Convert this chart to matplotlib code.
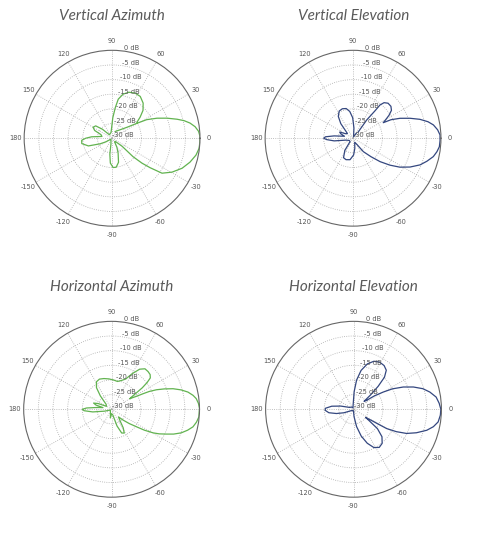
import numpy as np
import matplotlib.pyplot as plt

va_ang = [65.6, 36.3, 31, 28.2, 24, 20, 16.3, 13.7, 11, 7.9, 4.6, 1.3, -2, -6.6, -11.4, -17.1,
          -23.2, -29.5, -35, -37.8, -39.8, -41.4, -38.7, -45, -55, -62, -68, -75, -82, -88, -94,
          -98, -101, -140, -150, -155, -162, -170, -176, -180, -184, -190, -198, -204, -210,
          -217, -223, -232, -260, -272, -276, -279, -284, -290, -297, -304, -311.5, -318, -323,
          -327, -329]
va_db = [-27.5, -23.7, -20.1, -16.6, -13.2, -10, -6.9, -4.7, -2.9, -1.4, -0.4, 0, 0, -0.1, -0.8,
         -2.2, -4.0, -6.5, -9.2, -13.6, -16.7, -20.5, -25.6, -28.5, -28.5, -26.5, -24.5, -21.5,
         -20, -20, -21.5, -24.5, -28, -29.5, -27.5, -25.5, -21.5, -19.5, -19.6, -21, -23, -26.5,
         -26, -23.5, -22.5, -23, -25.5, -28.5, -28, -23, -19.5, -16.5, -14.5, -13.3, -12.7,
         -12.8, -14.0, -15.8, -18, -19.8, -20.1]

ve_ang = [50.2, 53.2, 51.3, 51, 48.9, 45, 40.1, 36, 32.6, 29.9, 27.2, 26, 23, 19.3, 15.8, 12.4,
          9.4, 5.7, 2.2, -1.6, -5.6, -9.1, -12.9, -17.3, -21.7, -26.8, -31.7, -36.1, -40.9,
          -45.8, -52.4, -58, -68, -80, -88, -98, -108, -116, -124, -132, -150, -165, -172, -177,
          -180, -183, -187, -193, -200, -205, -211, -220, -230, -236, -243, -250, -257, -263,
          -269, -275, -290, -303]
ve_db = [-27.3, -22.2, -18.0, -15.4, -13.9, -13.1, -13.1, -13.8, -15.4, -17.0, -18.4, -15.6,
         -12.6, -9.4, -6.3, -3.8, -2.2, -1.0, -0.3, -0.3, -0.4, -1.0, -1.9, -3.6, -5.4, -8.2,
         -11.2, -14.4, -17.8, -21.2, -24.2, -27.5, -28.5, -26.5, -24.3, -22.6, -22.3, -22.6,
         -25, -28.5, -28.5, -27.5, -23.5, -21, -20, -20.6, -23.5, -27, -25.5, -25, -27, -27.5,
         -23.5, -21, -19.6, -19.3, -19.6, -20.8, -23, -26.5, -29.5, -28]

ha_ang = [30, 27.5, 26.3, 25.3, 23.5, 21.1, 18.5, 15.6, 12.7, 9.7, 7.2, 3.9, 0.6, -2.6, -5, -8.6,
          -12.2, -15.4, -18.7, -21.8, -24.4, -27.3, -29.6, -32.5, -35.1, -38.9, -43, -48, -54,
          -58, -62, -67, -72, -78, -90, -98, -105, -150, -165, -172, -177, -180, -183, -187,
          -191, -195, -199, -203, -210, -222, -230, -235, -241, -248, -256, -265, -274, -282,
          -289, -295, -300, -305, -309.5, -314, -318, -321, -323, -325, -327, -329, -330]
ha_db = [-22.7, -20.4, -18, -15.8, -13.3, -10.7, -7.9, -5.4, -3.3, -1.8, -0.9, -0.3, 0, -0.1,
         -0.1, -0.7, -1.6, -3.1, -4.9, -7.2, -9.5, -11.7, -13.7, -16.7, -19.6, -22.2, -24.5,
         -26.5, -25, -22.5, -20.8, -21.2, -24, -28, -28.5, -27, -28.5, -29.5, -27.5, -23.5,
         -20.6, -20, -21.5, -25, -27, -24.5, -23.5, -25, -28, -27.5, -24, -21, -19.3, -18.9,
         -19.2, -19.6, -20, -20.3, -19.6, -18.6, -16, -13.3, -12.1, -12.1, -12.3, -13, -14.8,
         -17.2, -20.5, -22.5, -22.7]

he_ang = [34.3, 32.7, 30.1, 27.7, 24.1, 20.4, 16.5, 12.7, 8.4, 4, 0, -3.9, -8.5, -12.3, -16,
          -20.5, -24.5, -27.6, -30.2, -31.1, -32, -34, -36, -39, -44, -50, -56, -62, -68, -74,
          -80, -86, -92, -120, -150, -160, -166, -172, -178, -182, -188, -194, -205, -230, -250,
          -265, -272, -276, -281, -287, -293, -299, -305, -310, -314, -317, -320, -323, -325.7]
he_db = [-24.6, -21.5, -18.3, -15, -11.4, -8.2, -5.3, -3.3, -1.5, -0.7, -0.2, -0.3, -0.8, -2.1,
         -4, -7.1, -10.1, -13.5, -16.9, -20.5, -23, -25, -23.5, -19.5, -16.5, -14.8, -14.3,
         -15.2, -17.5, -20.5, -24, -27.5, -29.5, -29.5, -29, -26.5, -24, -21.5, -20.3, -20.4,
         -22.5, -25.5, -28.5, -29, -29.5, -28.5, -24, -20, -16.5, -13.8, -12.2, -11.6, -11.8,
         -12.6, -14.8, -18.5, -22.5, -25.5, -24.6]

titles = ['Vertical Azimuth', 'Vertical Elevation', 'Horizontal Azimuth', 'Horizontal Elevation']
patterns = [(va_ang, va_db), (ve_ang, ve_db), (ha_ang, ha_db), (he_ang, he_db)]
colors = ['#62b350', '#34477f', '#62b350', '#34477f']

theta_ticks = [0, 30, 60, 90, 120, 150, 180, 210, 240, 270, 300, 330]
theta_labels = ['0', '30', '60', '90', '120', '150', '180', '-150', '-120', '-90', '-60', '-30']
ring_levels = [0, -5, -10, -15, -20, -25, -30]

fig = plt.figure(figsize=(4.8, 5.41), dpi=100)

# axes boxes and title positions (figure fractions)
boxes = [[0.050, 0.582, 0.367, 0.325], [0.552, 0.582, 0.367, 0.325],
         [0.049, 0.081, 0.367, 0.325], [0.553, 0.081, 0.367, 0.325]]
title_pos = [(0.233, 0.970), (0.736, 0.970), (0.232, 0.470), (0.737, 0.470)]

for i in range(4):
    ax = fig.add_axes(boxes[i], projection='polar')
    ang, db = patterns[i]
    ax.plot(np.deg2rad(ang), db, color=colors[i], lw=0.9)
    ax.set_ylim(-30, 0)
    ax.set_yticks([-25, -20, -15, -10, -5])
    ax.set_yticklabels([])
    ax.set_thetagrids(theta_ticks, theta_labels)
    ax.tick_params(axis='x', labelsize=4.8, colors='#555555', pad=-4)
    ax.grid(True, linestyle=':', color='#aaaaaa', lw=0.6)
    ax.spines['polar'].set_color('#666666')
    ax.spines['polar'].set_linewidth(0.8)
    for lev in ring_levels:
        ax.text(np.deg2rad(82), lev, f'{lev} dB', fontsize=4.8, color='#555555',
                ha='left', va='bottom')
    fig.text(title_pos[i][0], title_pos[i][1], titles[i], ha='center', va='center',
             fontsize=11, style='italic', color='#5a5a5a', family='Lato')

fig.savefig('out.png', dpi=100, facecolor='white')
